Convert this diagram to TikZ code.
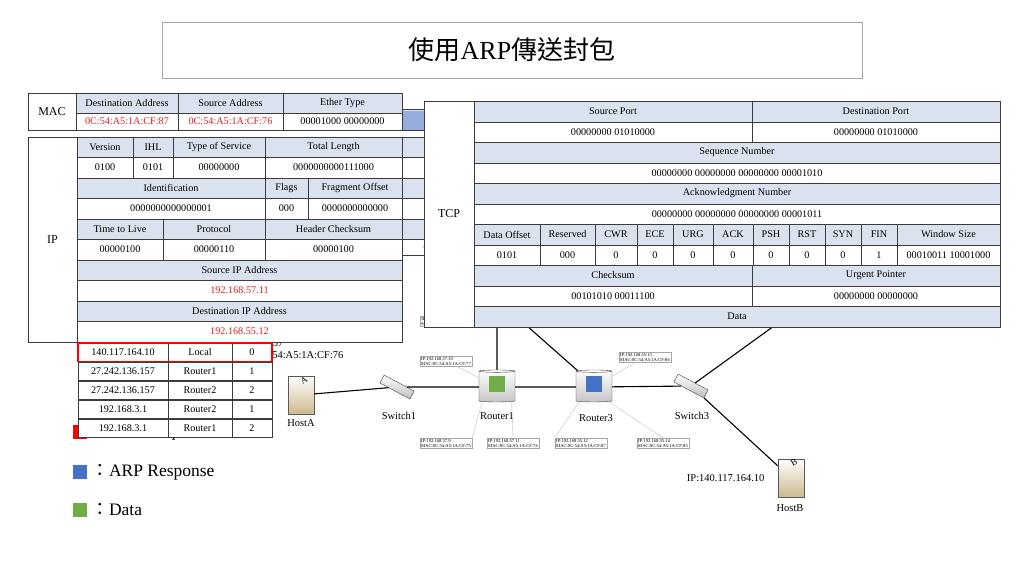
\documentclass[tikz,border=0pt]{standalone}
\usepackage{fontspec}
\setmainfont{Liberation Serif}
\newfontfamily\cjk{Noto Sans CJK TC}
\usetikzlibrary{shapes.geometric}
\definecolor{hdr}{RGB}{218,226,240}
\definecolor{hdrdark}{RGB}{150,172,220}
\definecolor{redtxt}{RGB}{225,30,30}
\definecolor{bord}{RGB}{60,60,60}
\definecolor{datagreen}{RGB}{112,173,71}
\definecolor{respblue}{RGB}{68,114,196}
\tikzstyle{hd}=[draw=bord, fill=hdr, line width=0.6pt]
\tikzstyle{vl}=[draw=bord, fill=white, line width=0.6pt]
\tikzstyle{txt}=[inner sep=0pt, font=\fontsize{10.2}{11}\selectfont]
\tikzstyle{rtxt}=[txt, text=redtxt]
\tikzstyle{link}=[line width=1.1pt, black]
\tikzstyle{thin}=[draw=gray!60, line width=0.3pt]
\tikzstyle{tag}=[draw=gray!70, fill=white, inner sep=1pt, align=left, font=\fontsize{4.6}{5}\selectfont]
\tikzstyle{dev}=[font=\fontsize{10.5}{11}\selectfont]
\tikzstyle{host}=[rectangle, draw=gray!70!black, top color=white, bottom color={rgb,255:red,205;green,185;blue,140}, minimum width=26pt, minimum height=38pt, font=\small]
\tikzstyle{router}=[cylinder, shape border rotate=90, aspect=0.35, draw=gray!50!black, top color=white, bottom color=gray!45, minimum width=36pt, minimum height=32pt]
\tikzstyle{switch}=[rectangle, rotate=-28, draw=gray!50!black, top color=white, bottom color=gray!50, minimum width=34pt, minimum height=9pt, inner sep=0pt]
\tikzstyle{leg}=[minimum size=14pt, inner sep=0pt]
\tikzstyle{legtxt}=[anchor=west, font=\fontsize{17.5}{19}\selectfont]
% a table cell: x1, y1, x2, y2, text, style
\newcommand{\tcell}[6]{\draw[#6] (#1,#2) rectangle (#3,#4);
  \node[txt] at ({(#1+#3)/2},{(#2+#4)/2}) {#5};}
\newcommand{\rcell}[6]{\draw[#6] (#1,#2) rectangle (#3,#4);
  \node[rtxt] at ({(#1+#3)/2},{(#2+#4)/2}) {#5};}

\begin{document}
\begin{tikzpicture}[x=1pt, y=-1pt]
	\useasboundingbox (0,0) rectangle (1024,576);
	%The title
	\draw[draw=gray!70, line width=0.6pt] (162,22) rectangle (862,78);
	\node[font=\fontsize{26}{28}\selectfont] (title) at (512,50) {{\cjk 使用}ARP{\cjk 傳送封包}};

	%The network
	\node[host] (hostA) at (301,395) {};
	\node[font=\small, rotate=30] at (304,380) {A};
	\node[dev] at (301,423) {HostA};
	\node[switch] (sw1) at (397,387) {};
	\node[dev] at (399,416) {Switch1};
	\node[router] (r1) at (497,387) {};
	\node[fill=datagreen, minimum size=16pt] (d1) at (497,384) {};
	\node[dev] at (497,416) {Router1};
	\node[router] (r3) at (594,387) {};
	\node[fill=respblue, minimum size=16pt] (d3) at (594,384) {};
	\node[dev] at (596,418) {Router3};
	\node[switch] (sw3) at (691,386) {};
	\node[dev] at (692,416) {Switch3};
	\node[host] (hostB) at (791,478) {};
	\node[font=\small, rotate=30] at (794,462) {B};
	\node[dev] at (790,508) {HostB};
	\node[dev, anchor=east] (ipB) at (768,478) {IP:140.117.164.10};
	\coordinate (up1) at (497,320);
	\coordinate (up3) at (518,318);
	\coordinate (up4) at (785,318);

	\draw[link] (hostA) -- (sw1) -- (r1) -- (r3) -- (sw3);
	\draw[link] (sw3) -- (hostB);
	\draw[link] (r1) -- (up1);
	\draw[link] (r3.north west) -- (up3);
	\draw[link] (sw3) -- (up4);

	%The interface tags
	\node[tag] (t1) at (446,361) {IP:192.168.57.10\\MAC:0C:54:A5:1A:CF:77};
	\node[tag] (t2) at (645,357) {IP:192.168.55.13\\MAC:0C:54:A5:1A:CF:86};
	\node[tag] (t3) at (446,443) {IP:192.168.57.9\\MAC:0C:54:A5:1A:CF:75};
	\node[tag] (t4) at (513,443) {IP:192.168.57.11\\MAC:0C:54:A5:1A:CF:76};
	\node[tag] (t5) at (581,443) {IP:192.168.55.12\\MAC:0C:54:A5:1A:CF:87};
	\node[tag] (t6) at (663,443) {IP:192.168.55.14\\MAC:0C:54:A5:1A:CF:85};
	\node[tag] (t7) at (445,321) {IP:192.168.57.1\\MAC:0C:54:A5:1A:CF:7};
	\draw[thin] (t1) -- (r1);
	\draw[thin] (t2) -- (r3);
	\draw[thin] (t3.north east) -- (r1.south west);
	\draw[thin] (t4.north) -- (r1.south east);
	\draw[thin] (t5.north west) -- (r3.south west);
	\draw[thin] (t6.north) -- (r3.south east);

	%HostA address, mostly hidden
	\node[dev, anchor=east] (ipA) at (287,343) {IP:27.242.136.157};
	\node[dev, anchor=east] (macA) at (347,355) {MAC:0C:54:A5:1A:CF:76};

	%The legend
	\node[leg, fill=red] (lr) at (80,432) {};
	\node[legtxt] at (88,432) {{\cjk ：}ARP Request};
	\node[leg, fill=respblue] (lb) at (80,472) {};
	\node[legtxt] at (88,472) {{\cjk ：}ARP Response};
	\node[leg, fill=datagreen] (lg) at (80,510) {};
	\node[legtxt] at (88,510) {{\cjk ：}Data};

	%The second frame, behind
	\tcell{400}{109}{480}{130}{}{hd}
	\fill[hdrdark] (402,111) rectangle (480,130);
	\tcell{400}{137}{480}{157}{\hspace*{14pt}De}{hd}
	\rcell{400}{157}{480}{178}{\hspace*{12pt}0C}{vl}
	\tcell{400}{178}{480}{198}{}{hd}
	\tcell{400}{198}{480}{219}{\hspace*{14pt}0}{vl}
	\tcell{400}{219}{480}{239}{\hspace*{-2pt}Addr}{hd}
	\rcell{400}{239}{480}{255}{\hspace*{-8pt}CF:87}{vl}

	%The MAC header
	\tcell{28}{93}{76}{130}{\fontsize{12}{13}\selectfont MAC}{vl}
	\tcell{76}{93}{178}{113}{Destination Address}{hd}
	\tcell{178}{93}{283}{113}{Source Address}{hd}
	\tcell{283}{93}{402}{113}{Ether Type}{hd}
	\rcell{76}{113}{178}{130}{0C:54:A5:1A:CF:87}{vl}
	\rcell{178}{113}{283}{130}{0C:54:A5:1A:CF:76}{vl}
	\tcell{283}{113}{402}{130}{00001000 00000000}{vl}

	%The IP header
	\tcell{28}{137}{77}{342}{\fontsize{12}{13}\selectfont IP}{vl}
	\tcell{77}{137}{133}{157}{Version}{hd}
	\tcell{133}{137}{173}{157}{IHL}{hd}
	\tcell{173}{137}{265}{157}{Type of Service}{hd}
	\tcell{265}{137}{402}{157}{Total Length}{hd}
	\tcell{77}{157}{133}{178}{0100}{vl}
	\tcell{133}{157}{173}{178}{0101}{vl}
	\tcell{173}{157}{265}{178}{00000000}{vl}
	\tcell{265}{157}{402}{178}{0000000000111000}{vl}
	\tcell{77}{178}{265}{198}{Identification}{hd}
	\tcell{265}{178}{308}{198}{Flags}{hd}
	\tcell{308}{178}{402}{198}{Fragment Offset}{hd}
	\tcell{77}{198}{265}{219}{0000000000000001}{vl}
	\tcell{265}{198}{308}{219}{000}{vl}
	\tcell{308}{198}{402}{219}{0000000000000}{vl}
	\tcell{77}{219}{163}{239}{Time to Live}{hd}
	\tcell{163}{219}{265}{239}{Protocol}{hd}
	\tcell{265}{219}{402}{239}{Header Checksum}{hd}
	\tcell{77}{239}{163}{260}{00000100}{vl}
	\tcell{163}{239}{265}{260}{00000110}{vl}
	\tcell{265}{239}{402}{260}{00000100}{vl}
	\tcell{77}{260}{402}{280}{Source IP Address}{hd}
	\rcell{77}{280}{402}{301}{192.168.57.11}{vl}
	\tcell{77}{301}{402}{321}{Destination IP Address}{hd}
	\rcell{77}{321}{402}{342}{192.168.55.12}{vl}

	%The routing table
	\foreach \y/\dst/\via/\hop in {343/140.117.164.10/Local/0, 362/27.242.136.157/Router1/1,
	  381/27.242.136.157/Router2/2, 400/192.168.3.1/Router2/1, 419/192.168.3.1/Router1/2} {
	  \tcell{78}{\y}{168}{\y+18.5}{\dst}{vl}
	  \tcell{168}{\y}{232}{\y+18.5}{\via}{vl}
	  \tcell{232}{\y}{272}{\y+18.5}{\hop}{vl}
	}
	\draw[red, line width=1.5pt] (78,343) rectangle (272,361.5);

	%The TCP header
	\tcell{424}{101}{474}{327}{\fontsize{12}{13}\selectfont TCP}{vl}
	\tcell{474}{101}{752}{122}{Source Port}{hd}
	\tcell{752}{101}{1000}{122}{Destination Port}{hd}
	\tcell{474}{122}{752}{142}{00000000 01010000}{vl}
	\tcell{752}{122}{1000}{142}{00000000 01010000}{vl}
	\tcell{474}{142}{1000}{163}{Sequence Number}{hd}
	\tcell{474}{163}{1000}{183}{00000000 00000000 00000000 00001010}{vl}
	\tcell{474}{183}{1000}{204}{Acknowledgment Number}{hd}
	\tcell{474}{204}{1000}{224}{00000000 00000000 00000000 00001011}{vl}
	\foreach \xa/\xb/\name/\val in {474/540/Data Offset/0101, 540/595/Reserved/000,
	  595/637/CWR/0, 637/673/ECE/0, 673/713/URG/0, 713/753/ACK/0, 753/789/PSH/0,
	  789/825/RST/0, 825/861/SYN/0, 861/897/FIN/1, 897/1000/Window Size/00010011 10001000} {
	  \tcell{\xa}{224}{\xb}{245}{\name}{hd}
	  \tcell{\xa}{245}{\xb}{265}{\val}{vl}
	}
	\tcell{474}{265}{752}{286}{Checksum}{hd}
	\tcell{752}{265}{1000}{286}{Urgent Pointer}{hd}
	\tcell{474}{286}{752}{306}{00101010 00011100}{vl}
	\tcell{752}{286}{1000}{306}{00000000 00000000}{vl}
	\tcell{474}{306}{1000}{327}{Data}{hd}
\end{tikzpicture}
\end{document}
